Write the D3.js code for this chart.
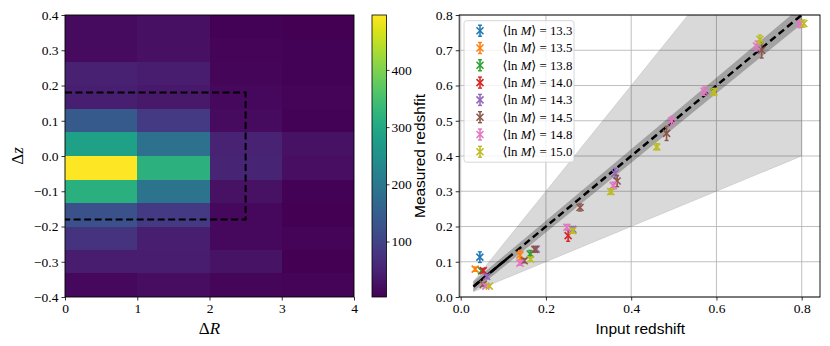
<!DOCTYPE html>
<html>
<head>
<meta charset="utf-8">
<script src="https://cdnjs.cloudflare.com/ajax/libs/d3/7.8.5/d3.min.js"></script>
<style>
body { margin: 0; background: #fff; }
text { fill: #000; }
</style>
</head>
<body>
<script>
// ---- left panel: counts in (dR, dz) bins ----
var rEdges = [0, 1, 2, 3, 4];
var zEdges = [0.4, 0.3333, 0.2667, 0.2, 0.1333, 0.0667, 0, -0.0667, -0.1333, -0.2, -0.2667, -0.3333, -0.4];
// rows top -> bottom, columns dR 0-1, 1-2, 2-3, 3-4
var counts = [
  [18, 24, 6, 4],
  [18, 24, 8, 5],
  [48, 40, 10, 5],
  [44, 35, 14, 8],
  [140, 85, 18, 6],
  [285, 185, 50, 25],
  [496, 318, 52, 22],
  [315, 190, 25, 6],
  [125, 85, 14, 3],
  [75, 45, 14, 7],
  [42, 40, 28, 4],
  [14, 20, 10, 8]
];
var boxR = [0, 2.5];
var boxZ = [-0.18, 0.18];
var cbTicks = [100, 200, 300, 400];

// ---- right panel: measured vs input redshift ----
var massLabels = ["13.3", "13.5", "13.8", "14.0", "14.3", "14.5", "14.8", "15.0"];
var colors = ["#1f77b4", "#ff7f0e", "#2ca02c", "#d62728", "#9467bd", "#8c564b", "#e377c2", "#bcbd22"];

var zin133 = [0.045], zout133 = [0.113], err133 = [0.015];
var zin135 = [0.034, 0.139], zout135 = [0.079, 0.119], err135 = [0.006, 0.013];
var zin138 = [0.049, 0.163], zout138 = [0.074, 0.122], err138 = [0.006, 0.010];
var zin140 = [0.053, 0.252], zout140 = [0.075, 0.174], err140 = [0.006, 0.016];
var zin143 = [0.061, 0.177, 0.263, 0.362], zout143 = [0.058, 0.136, 0.192, 0.351], err143 = [0.006, 0.008, 0.008, 0.014];
var zin145 = [0.053, 0.149, 0.174, 0.280, 0.367, 0.483, 0.706], zout145 = [0.036, 0.103, 0.135, 0.254, 0.329, 0.464, 0.700], err145 = [0.005, 0.006, 0.008, 0.010, 0.016, 0.020, 0.022];
var zin148 = [0.059, 0.139, 0.249, 0.358, 0.495, 0.571, 0.694, 0.796], zout148 = [0.031, 0.096, 0.198, 0.316, 0.500, 0.584, 0.712, 0.774], err148 = [0.004, 0.006, 0.008, 0.010, 0.012, 0.012, 0.014, 0.010];
var zin150 = [0.067, 0.164, 0.263, 0.352, 0.460, 0.594, 0.702, 0.805], zout150 = [0.031, 0.107, 0.188, 0.299, 0.426, 0.582, 0.731, 0.776], err150 = [0.004, 0.006, 0.007, 0.008, 0.009, 0.010, 0.012, 0.010];

var zinAll = [zin133, zin135, zin138, zin140, zin143, zin145, zin148, zin150];
var zoutAll = [zout133, zout135, zout138, zout140, zout143, zout145, zout148, zout150];
var errAll = [err133, err135, err138, err140, err143, err145, err148, err150];

var lineX = [0.03, 0.8];       // extent of the y = x line and the shaded regions
var wideFactor = [0.5, 1.5];   // light wedge: 0.5 z .. 1.5 z
var narrowHalf = 0.014;        // dark band half width, times (1+z)
var xTicksR = [0, 0.2, 0.4, 0.6, 0.8];
var yTicksR = [0, 0.1, 0.2, 0.3, 0.4, 0.5, 0.6, 0.7, 0.8];

var W = 830, H = 346;
var svg = d3.select("body").append("svg").attr("width", W).attr("height", H);
var serif = "'Liberation Serif', 'DejaVu Serif', serif";
var sans = "'Liberation Sans', Arial, sans-serif";

// ================= left heatmap =================
var L = {x0: 65, x1: 354, y0: 15, y1: 297};
var xL = d3.scaleLinear().domain([0, 4]).range([L.x0, L.x1]);
var yL = d3.scaleLinear().domain([-0.4, 0.4]).range([L.y1, L.y0]);
var cMin = d3.min(counts, function(r){ return d3.min(r); });
var cMax = d3.max(counts, function(r){ return d3.max(r); });
var color = d3.scaleSequential(d3.interpolateViridis).domain([cMin, cMax]);

var cells = [];
counts.forEach(function(row, i){
  row.forEach(function(v, j){
    cells.push({r0: rEdges[j], r1: rEdges[j+1], z0: zEdges[i], z1: zEdges[i+1], v: v});
  });
});
svg.append("g").attr("shape-rendering", "crispEdges")
  .selectAll("rect").data(cells).enter().append("rect")
  .attr("x", function(d){ return Math.round(xL(d.r0)); })
  .attr("y", function(d){ return Math.round(yL(d.z0)); })
  .attr("width", function(d){ return Math.round(xL(d.r1)) - Math.round(xL(d.r0)); })
  .attr("height", function(d){ return Math.round(yL(d.z1)) - Math.round(yL(d.z0)); })
  .attr("fill", function(d){ return color(d.v); });

// dashed selection box
svg.append("path")
  .attr("d", "M" + xL(boxR[0]) + "," + yL(boxZ[1]) + "H" + xL(boxR[1]) + "V" + yL(boxZ[0]) + "H" + xL(boxR[0]))
  .attr("fill", "none").attr("stroke", "#000").attr("stroke-width", 2)
  .attr("stroke-dasharray", "7,3.5");

svg.append("rect").attr("x", L.x0).attr("y", L.y0).attr("width", L.x1 - L.x0).attr("height", L.y1 - L.y0)
  .attr("fill", "none").attr("stroke", "#000").attr("stroke-width", 0.9);

var axL = svg.append("g").attr("transform", "translate(0," + L.y1 + ")")
  .call(d3.axisBottom(xL).tickValues([0, 1, 2, 3, 4]).tickSize(3.5).tickPadding(3).tickFormat(d3.format("d")));
var ayL = svg.append("g").attr("transform", "translate(" + L.x0 + ",0)")
  .call(d3.axisLeft(yL).tickValues([-0.4, -0.3, -0.2, -0.1, 0, 0.1, 0.2, 0.3, 0.4]).tickSize(3.5).tickPadding(3).tickFormat(d3.format(".1f")));
[axL, ayL].forEach(function(a){
  a.select(".domain").remove();
  a.selectAll("text").attr("font-family", serif).attr("font-size", 13.5).attr("fill", "#000");
  a.selectAll("line").attr("stroke", "#000").attr("stroke-width", 0.8);
});

svg.append("text").attr("x", (L.x0 + L.x1) / 2).attr("y", 334).attr("text-anchor", "middle")
  .attr("font-family", serif).attr("font-size", 17)
  .html("Δ<tspan font-style='italic'>R</tspan>");
svg.append("text").attr("transform", "translate(23," + ((L.y0 + L.y1) / 2) + ") rotate(-90)")
  .attr("text-anchor", "middle").attr("font-family", serif).attr("font-size", 17)
  .html("Δ<tspan font-style='italic'>z</tspan>");

// ================= colorbar =================
var CB = {x0: 372, x1: 386.5, y0: 15, y1: 297};
var cbScale = d3.scaleLinear().domain([cMin, cMax]).range([CB.y1, CB.y0]);
var grad = svg.append("defs").append("linearGradient").attr("id", "vir")
  .attr("x1", "0").attr("y1", "1").attr("x2", "0").attr("y2", "0");
d3.range(0, 1.0001, 0.05).forEach(function(t){
  grad.append("stop").attr("offset", t).attr("stop-color", d3.interpolateViridis(t));
});
svg.append("rect").attr("x", CB.x0).attr("y", CB.y0).attr("width", CB.x1 - CB.x0).attr("height", CB.y1 - CB.y0)
  .attr("fill", "url(#vir)").attr("stroke", "#000").attr("stroke-width", 0.8);
var acb = svg.append("g").attr("transform", "translate(" + CB.x1 + ",0)")
  .call(d3.axisRight(cbScale).tickValues(cbTicks).tickSize(3).tickPadding(2).tickFormat(d3.format("d")));
acb.select(".domain").remove();
acb.selectAll("text").attr("font-family", serif).attr("font-size", 13.5).attr("fill", "#000");
acb.selectAll("line").attr("stroke", "#000").attr("stroke-width", 0.8);

// ================= right panel =================
var R = {x0: 460.7, x1: 820, y0: 15, y1: 297};
var xR = d3.scaleLinear().domain([0, 0.8]).range([R.x0, 801.7]);
xR.domain([xR.invert(R.x0 - 1.5), xR.invert(R.x1)]).range([R.x0 - 1.5, R.x1]);
var yR = d3.scaleLinear().domain([0, 0.8]).range([R.y1, R.y0]);

svg.append("clipPath").attr("id", "clipR").append("rect")
  .attr("x", R.x0 - 1.5).attr("y", R.y0).attr("width", R.x1 - R.x0 + 1.5).attr("height", R.y1 - R.y0);

var gR = svg.append("g");
// grid
gR.append("g").selectAll("line").data(xTicksR).enter().append("line")
  .attr("x1", function(d){ return xR(d); }).attr("x2", function(d){ return xR(d); })
  .attr("y1", R.y0).attr("y2", R.y1).attr("stroke", "#b0b0b0").attr("stroke-width", 0.8);
gR.append("g").selectAll("line").data(yTicksR).enter().append("line")
  .attr("y1", function(d){ return yR(d); }).attr("y2", function(d){ return yR(d); })
  .attr("x1", R.x0 - 1.5).attr("x2", R.x1).attr("stroke", "#b0b0b0").attr("stroke-width", 0.8);

var gClip = gR.append("g").attr("clip-path", "url(#clipR)");
var wedge = d3.area()
  .x(function(d){ return xR(d); })
  .y0(function(d){ return yR(wideFactor[0] * d); })
  .y1(function(d){ return yR(wideFactor[1] * d); });
gClip.append("path").datum(lineX).attr("d", wedge)
  .attr("fill", "#000").attr("fill-opacity", 0.15)
  .attr("stroke", "#000").attr("stroke-opacity", 0.12).attr("stroke-width", 0.8);
var band = d3.area()
  .x(function(d){ return xR(d); })
  .y0(function(d){ return yR(d - narrowHalf * (1 + d)); })
  .y1(function(d){ return yR(d + narrowHalf * (1 + d)); });
gClip.append("path").datum(lineX).attr("d", band)
  .attr("fill", "#000").attr("fill-opacity", 0.25);

var idLine = d3.line().x(function(d){ return xR(d); }).y(function(d){ return yR(d); });
gClip.append("path").datum([lineX[0], 0.11]).attr("d", idLine)
  .attr("fill", "none").attr("stroke", "#000").attr("stroke-width", 2.5);
gClip.append("path").datum(lineX).attr("d", idLine)
  .attr("fill", "none").attr("stroke", "#000").attr("stroke-width", 2.5)
  .attr("stroke-dasharray", "7,4");

// error bar points
function drawMark(g, cx, cy, ytop, ybot, col){
  g.append("line").attr("x1", cx).attr("x2", cx).attr("y1", ytop).attr("y2", ybot)
    .attr("stroke", col).attr("stroke-width", 1.6);
  g.append("line").attr("x1", cx - 2).attr("x2", cx + 2).attr("y1", ytop).attr("y2", ytop)
    .attr("stroke", col).attr("stroke-width", 1.4);
  g.append("line").attr("x1", cx - 2).attr("x2", cx + 2).attr("y1", ybot).attr("y2", ybot)
    .attr("stroke", col).attr("stroke-width", 1.4);
  var s = 3.5;
  g.append("path").attr("d", "M" + (cx - s) + "," + (cy - s) + "L" + (cx + s) + "," + (cy + s) +
      "M" + (cx - s) + "," + (cy + s) + "L" + (cx + s) + "," + (cy - s))
    .attr("stroke", col).attr("stroke-width", 1.6).attr("fill", "none");
}
var gPts = gR.append("g");
zinAll.forEach(function(zs, k){
  zs.forEach(function(z, i){
    var zo = zoutAll[k][i], e = errAll[k][i];
    drawMark(gPts, xR(z), yR(zo), yR(zo + e), yR(zo - e), colors[k]);
  });
});

// spines
svg.append("rect").attr("x", R.x0 - 1.5).attr("y", R.y0).attr("width", R.x1 - R.x0 + 1.5).attr("height", R.y1 - R.y0)
  .attr("fill", "none").attr("stroke", "#000").attr("stroke-width", 0.9);

var axR = svg.append("g").attr("transform", "translate(0," + R.y1 + ")")
  .call(d3.axisBottom(xR).tickValues(xTicksR).tickSize(3.5).tickPadding(3).tickFormat(d3.format(".1f")));
var ayR = svg.append("g").attr("transform", "translate(" + (R.x0 - 1.5) + ",0)")
  .call(d3.axisLeft(yR).tickValues(yTicksR).tickSize(3.5).tickPadding(3).tickFormat(d3.format(".1f")));
[axR, ayR].forEach(function(a){
  a.select(".domain").remove();
  a.selectAll("text").attr("font-family", serif).attr("font-size", 13.5).attr("fill", "#000");
  a.selectAll("line").attr("stroke", "#000").attr("stroke-width", 0.8);
});

svg.append("text").attr("x", (R.x0 + R.x1) / 2).attr("y", 334).attr("text-anchor", "middle")
  .attr("font-family", sans).attr("font-size", 15.5).text("Input redshift");
svg.append("text").attr("transform", "translate(425," + ((R.y0 + R.y1) / 2) + ") rotate(-90)")
  .attr("text-anchor", "middle").attr("font-family", sans).attr("font-size", 15.5).text("Measured redshfit");

// legend
var lg = svg.append("g").attr("transform", "translate(464,20.7)");
lg.append("rect").attr("width", 110).attr("height", 141.5).attr("rx", 2.5)
  .attr("fill", "#fff").attr("fill-opacity", 0.8).attr("stroke", "#cccccc").attr("stroke-width", 0.8);
massLabels.forEach(function(m, k){
  var cy = 10 + k * 17.3;
  drawMark(lg, 16, cy, cy - 5.5, cy + 5.5, colors[k]);
  lg.append("text").attr("x", 38.5).attr("y", cy + 4.5).attr("font-family", serif).attr("font-size", 12.8)
    .html("⟨ln <tspan font-style='italic'>M</tspan>⟩ = " + m);
});
</script>
</body>
</html>
